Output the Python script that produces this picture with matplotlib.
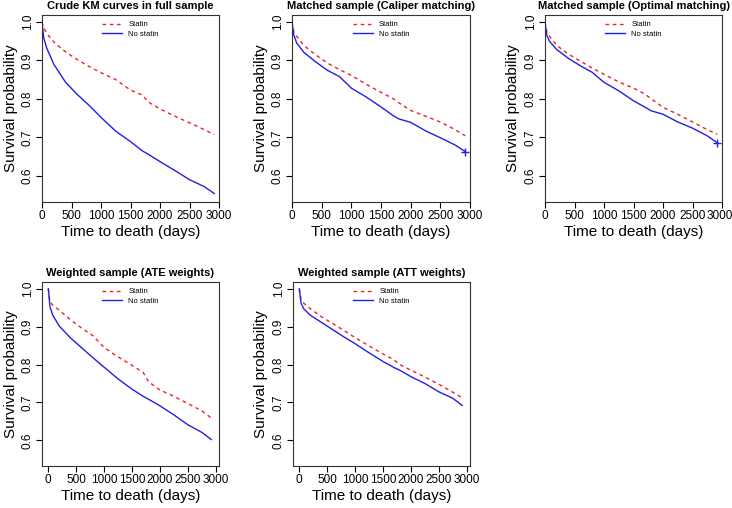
import matplotlib
matplotlib.use("Agg")
import matplotlib.pyplot as plt
import matplotlib.transforms as mtransforms
import numpy as np

plt.rcParams['font.family'] = ['Liberation Sans', 'DejaVu Sans']

# follow-up grid (days) shared by all curves
days = [0, 30, 80, 200, 400, 600, 800, 1000, 1250, 1500, 1700, 1800, 2000, 2250, 2500, 2750, 2920]

titles = ["Crude KM curves in full sample",
          "Matched sample (Caliper matching)",
          "Matched sample (Optimal matching)",
          "Weighted sample (ATE weights)",
          "Weighted sample (ATT weights)"]

statin = [
    [1.0, 0.985, 0.970, 0.948, 0.922, 0.902, 0.884, 0.868, 0.850, 0.823, 0.810, 0.792, 0.774, 0.755, 0.738, 0.720, 0.707],
    [1.0, 0.975, 0.962, 0.939, 0.914, 0.893, 0.876, 0.861, 0.838, 0.817, 0.801, 0.790, 0.770, 0.755, 0.740, 0.720, 0.704],
    [1.0, 0.975, 0.962, 0.939, 0.916, 0.898, 0.880, 0.864, 0.844, 0.828, 0.812, 0.800, 0.778, 0.760, 0.740, 0.720, 0.708],
    [1.0, 0.966, 0.957, 0.943, 0.918, 0.896, 0.876, 0.845, 0.820, 0.798, 0.779, 0.754, 0.733, 0.716, 0.697, 0.678, 0.659],
    [1.0, 0.973, 0.962, 0.947, 0.926, 0.908, 0.890, 0.871, 0.849, 0.828, 0.812, 0.800, 0.785, 0.767, 0.748, 0.727, 0.712],
]
no_statin = [
    [1.0, 0.958, 0.932, 0.890, 0.843, 0.811, 0.783, 0.752, 0.716, 0.689, 0.665, 0.656, 0.637, 0.614, 0.590, 0.572, 0.554],
    [1.0, 0.966, 0.945, 0.921, 0.896, 0.874, 0.858, 0.828, 0.805, 0.779, 0.757, 0.748, 0.739, 0.717, 0.699, 0.680, 0.663],
    [1.0, 0.965, 0.949, 0.928, 0.905, 0.886, 0.869, 0.843, 0.821, 0.795, 0.778, 0.769, 0.760, 0.740, 0.724, 0.704, 0.686],
    [1.0, 0.953, 0.930, 0.901, 0.870, 0.844, 0.818, 0.793, 0.762, 0.735, 0.716, 0.708, 0.691, 0.667, 0.641, 0.621, 0.602],
    [1.0, 0.963, 0.947, 0.930, 0.911, 0.892, 0.873, 0.855, 0.831, 0.808, 0.792, 0.785, 0.768, 0.750, 0.728, 0.711, 0.692],
]
censored_end = [False, True, True, False, False]

W, H = 732, 508
# axes boxes in pixels: left, right, top, bottom
boxes = [(42, 219, 15, 202), (292, 470, 15, 202), (545, 722, 15, 202),
         (42, 219, 282, 466), (293, 470, 282, 466)]

fig = plt.figure(figsize=(W / 100, H / 100), dpi=100)

for i in range(5):
    l, r, t, b = boxes[i]
    ax = fig.add_axes([l / W, 1 - b / H, (r - l) / W, (b - t) / H])
    ax.plot(days, statin[i], color='#f02020', lw=1.0, ls=(0, (2.6, 2.6)), label="Statin")
    ax.plot(days, no_statin[i], color='#2020e0', lw=1.0, label="No statin")
    if censored_end[i]:
        ax.plot(days[-1], no_statin[i][-1], marker='+', color='#2020e0', ms=6, mew=1.0)

    ax.set_ylim(0.532, 1.018)
    if i < 3:
        ax.set_xlim(0, 3000)
    else:
        ax.set_xlim(-113, 3059)
    ax.set_xticks(np.arange(0, 3001, 500))
    ax.set_yticks([0.6, 0.7, 0.8, 0.9, 1.0])
    ax.set_yticklabels(["0.6", "0.7", "0.8", "0.9", "1.0"], rotation=90, va='center')
    ax.tick_params(direction='out', length=4, width=0.8, labelsize=8.5, pad=2)
    for s in ax.spines.values():
        s.set_linewidth(0.8)
        s.set_color('#333333')

    ax.set_title(titles[i], fontsize=8, fontweight='bold', pad=4)
    ax.set_xlabel("Time to death (days)", fontsize=11, labelpad=2)
    ax.set_ylabel("Survival probability", fontsize=11, labelpad=3)
    ax.legend(loc='upper center', bbox_to_anchor=(0.5, 1.0), frameon=False,
              fontsize=5.5, handlelength=2.6, labelspacing=0.3, borderaxespad=0.4)

    if i == 2:
        # keep the last tick label inside the figure edge
        last = ax.get_xticklabels()[-1]
        last.set_transform(last.get_transform() +
                           mtransforms.ScaledTranslation(-2.5 / 100, 0, fig.dpi_scale_trans))

fig.savefig("out.png", dpi=100)
